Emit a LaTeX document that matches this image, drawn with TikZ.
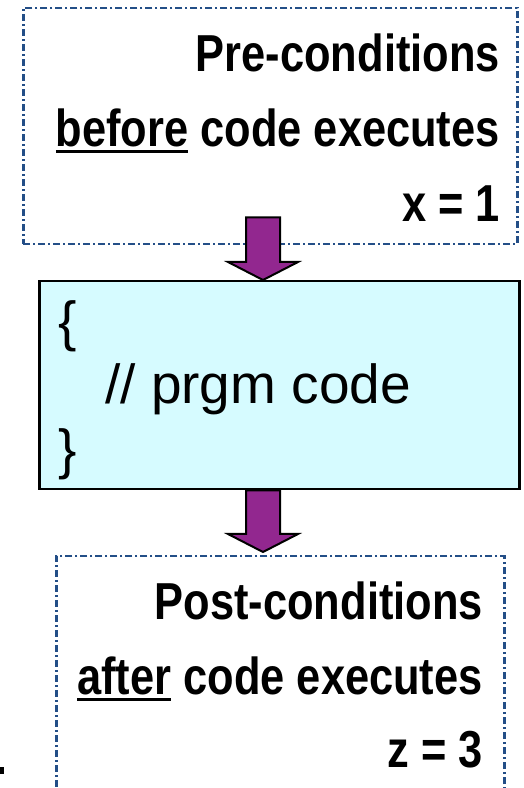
\documentclass[tikz,border=0pt]{standalone}
\usepackage{fontspec}
\setmainfont{Liberation Sans}
\newfontfamily\condsans{Liberation Sans}[FakeStretch=0.835]
\usetikzlibrary{calc}
\definecolor{ccblue}{RGB}{35,78,135}
\definecolor{ccpurple}{RGB}{146,39,143}
\definecolor{cccyan}{RGB}{214,251,255}
\newcommand\undl[1]{\setbox0\hbox{#1}\rlap{\rule[-6pt]{\wd0}{3pt}}\box0\relax}
\newcommand\fatarrow[2]{%
  \draw[fatarrow] let \p1=#1, \p2=#2 in
    (\x1-17pt,\y1) -- (\x1+17pt,\y1) -- (\x1+17pt,\y2+18pt) -- (\x1+35pt,\y2+18pt)
    -- (\x1,\y2) -- (\x1-35pt,\y2+18pt) -- (\x1-17pt,\y2+18pt) -- cycle;}

\begin{document}
\begin{tikzpicture}[x=1pt, y=1pt,
        condbox/.style={draw=ccblue, line width=2.5pt, dash pattern=on 7pt off 3pt on 2pt off 3pt,
          anchor=north west, inner sep=0pt},
        codebox/.style={draw=black, line width=2.5pt, fill=cccyan, anchor=north west, inner sep=0pt},
        cond/.style={anchor=base east, inner sep=0pt, font=\condsans\bfseries\fontsize{52}{75}\selectfont},
        prgm/.style={anchor=base west, inner sep=0pt, font=\fontsize{55}{62}\selectfont},
        fatarrow/.style={draw=black, line width=2pt, fill=ccpurple, line join=miter}
      ]
      \clip (0,0) rectangle (524,788);

      % pre-conditions
      \node[condbox, minimum width=494, minimum height=236] (pre) at (22,781) {};
      \node[cond] (pre1) at (500,716) {Pre-conditions};
      \node[cond] (pre2) at (500,641) {\undl{before} code executes};
      \node[cond] (pre3) at (500,566) {x = 1};

      % program block
      \node[codebox, minimum width=480, minimum height=208] (code) at (38,508) {};
      \node[prgm] (open) at (58,447) {\{};
      \node[prgm] (body) at (105,384) {// prgm code};
      \node[prgm] (close) at (58,319) {\}};

      % post-conditions, runs off the bottom
      \node[condbox, minimum width=448, minimum height=260] (post) at (55,233) {};
      \node[cond] (post1) at (483,168) {Post-conditions};
      \node[cond] (post2) at (483,93) {\undl{after} code executes};
      \node[cond] (post3) at (483,20) {z = 3};

      \coordinate (axis) at (263,0);
      \fatarrow{($(axis |- pre.south)+(0,28)$)}{(axis |- code.north)}
      \fatarrow{(axis |- code.south)}{($(axis |- post.north)+(0,3)$)}

      \fill (0,14) rectangle (4,21);
    \end{tikzpicture}
\end{document}
